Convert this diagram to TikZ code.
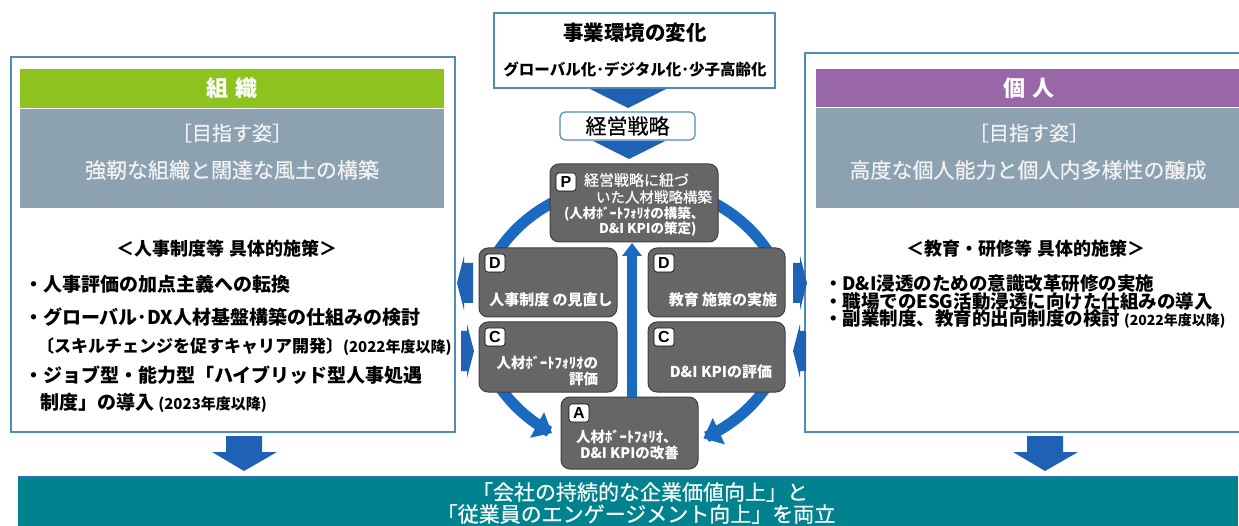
\documentclass[tikz,border=0pt]{standalone}
\usepackage{fontspec}
\setmainfont{Noto Sans CJK JP}
\newfontfamily\medf[FakeBold=0.5]{Noto Sans CJK JP}
\newfontfamily\latf{Liberation Sans}
\usetikzlibrary{arrows.meta}
\newcommand{\fsz}[1]{\fontsize{#1pt}{#1pt}\selectfont}
\definecolor{frameblue}{HTML}{4F8DB5}
\definecolor{grn}{HTML}{8DC21F}
\definecolor{purp}{HTML}{9966A8}
\definecolor{band}{HTML}{8DA2B1}
\definecolor{pdcafill}{HTML}{666666}
\definecolor{pdcaline}{HTML}{3F3F3F}
\definecolor{arcblue}{HTML}{1B6AC1}
\definecolor{tri}{HTML}{1F62B5}
\definecolor{tealbar}{HTML}{00838F}
\definecolor{bartop}{HTML}{2D6DB5}
\tikzset{
  framebox/.style={draw=frameblue, line width=1.2pt},
  pdcabox/.style={draw=pdcaline, fill=pdcafill, line width=1pt, rounded corners=9pt},
  letterbox/.style={draw=black, fill=white, line width=0.6pt, rounded corners=3pt, minimum width=20pt, minimum height=18pt, font=\latf\bfseries\fsz{16}},
  wtxt/.style={text=white, font=\fsz{14.5}\bfseries},
  bul/.style={anchor=west, font=\fsz{19}\bfseries},
  rbul/.style={anchor=west, font=\fsz{18.5}\bfseries},
  bandtxt/.style={text=white!95!black, font=\medf\fsz{21}},
  arcline/.style={draw=arcblue, line width=11pt},
  blockarrow/.style={fill=tri},
}
\begin{document}
\begin{tikzpicture}[x=1pt,y=-1pt, every node/.style={inner sep=0pt, outer sep=0pt}]
\useasboundingbox (0,0) rectangle (1239,526);
\fill[white] (0,0) rectangle (1239,526);

% ---------------- left box
\draw[framebox] (11,57) rectangle (455,432);
\fill[grn] (20,69) rectangle (444,108);
\fill[band] (20,109) rectangle (444,208);
\node[text=white, font=\fsz{22}\bfseries] (lh) at (232,88) {組\hspace{0.3em}織};
\node[bandtxt, font=\medf\fsz{20}] (lg1) at (232,133) {［目指す姿］};
\node[bandtxt] (lg2) at (232,170) {強靭な組織と闊達な風土の構築};
\node[font=\fsz{18}\bfseries] (lsub) at (227,249) {＜人事制度等 具体的施策＞};
\node[bul] (lb1) at (24,284) {・人事評価の加点主義への転換};
\node[bul] (lb2) at (24,317) {・グローバル･DX人材基盤構築の仕組みの検討};
\node[bul, font=\fsz{17}\bfseries] (lb3) at (37,347) {〔スキルチェンジを促すキャリア開発〕{\fsz{15}(2022年度以降)}};
\node[bul] (lb4) at (24,375) {・ジョブ型・能力型「ハイブリッド型人事処遇};
\node[bul] (lb5) at (40,403) {制度」の導入 {\fsz{15}(2023年度以降)}};

% ---------------- right box
\draw[framebox] (805,53) rectangle (1250,432);
\fill[purp] (816,69) rectangle (1245,107);
\fill[band] (816,108) rectangle (1245,208);
\node[text=white, font=\fsz{22}\bfseries] (rh) at (1029,88) {個\hspace{0.3em}人};
\node[bandtxt, font=\medf\fsz{20}] (rg1) at (1029,133) {［目指す姿］};
\node[bandtxt] (rg2) at (1028,170) {高度な個人能力と個人内多様性の醸成};
\node[font=\fsz{18}\bfseries] (rsub) at (1026,249) {＜教育・研修等 具体的施策＞};
\node[rbul] (rb1) at (824,284) {・D\&I浸透のための意識改革研修の実施};
\node[rbul] (rb2) at (824,301.5) {・職場でのESG活動浸透に向けた仕組みの導入};
\node[rbul] (rb3) at (824,319) {・副業制度、教育的出向制度の検討 {\fsz{14}(2022年度以降)}};

% ---------------- top center
\node[framebox, draw, minimum width=281pt, minimum height=75pt] (env) at (634.5,50.5) {};
\node[font=\fsz{20.5}\bfseries] (envt) at (635,33) {事業環境の変化};
\node[font=\fsz{15.5}\bfseries] (envs) at (635,69) {グローバル化･デジタル化･少子高齢化};
\fill[tri] (590,89) -- (666,89) -- (628,108) -- cycle;
\node[draw=frameblue, line width=1.2pt, rounded corners=5pt, minimum width=135pt, minimum height=28pt, font=\medf\fsz{21}] (ks) at (627.5,126) {経営戦略};
\fill[tri] (593,141) -- (665,141) -- (629,159) -- cycle;

% ---------------- PDCA arcs (ellipse centre 633,318)
\draw[arcline] plot[domain=152:110, samples=30] ({633+155*cos(\x)},{318-135*sin(\x)});
\draw[arcline] plot[domain=70:28, samples=30] ({633+155*cos(\x)},{318-135*sin(\x)});
\draw[arcline, -{Triangle[width=28pt,length=17pt]}] plot[domain=205:238.5, samples=30] ({633+155*cos(\x)},{318-135*sin(\x)});
\draw[arcline, -{Triangle[width=28pt,length=17pt]}] plot[domain=335:297, samples=30] ({633+155*cos(\x)},{318-135*sin(\x)});

% ---------------- PDCA boxes
\node[pdcabox, minimum width=168pt, minimum height=78pt] (P) at (634,203) {};
\node[pdcabox, minimum width=138pt, minimum height=69pt] (Dl) at (548,282.5) {};
\node[pdcabox, minimum width=138pt, minimum height=70pt] (Cl) at (548,357) {};
\node[pdcabox, minimum width=137pt, minimum height=69pt] (Dr) at (716.5,282.5) {};
\node[pdcabox, minimum width=137pt, minimum height=70pt] (Cr) at (716.5,357) {};
\node[pdcabox, minimum width=137pt, minimum height=72pt] (A) at (629.5,433) {};

% vertical arrow A -> P
\coordinate (vaS) at (632,397);
\coordinate (vaE) at (632,243);
\draw[draw=arcblue, line width=10pt, -{Triangle[width=19pt,length=13pt]}] (vaS) -- (vaE);

% letters
\node[letterbox] (Pl) at (566,182) {P};
\node[letterbox] (Dll) at (495,263) {D};
\node[letterbox] (Drl) at (664,263) {D};
\node[letterbox] (Cll) at (495,337) {C};
\node[letterbox] (Crl) at (664,337) {C};
\node[letterbox] (Al) at (579,413) {A};

% PDCA texts
\node[wtxt, anchor=west, font=\medf\fsz{15}] (Pt1) at (584,180) {経営戦略に紐づ};
\node[wtxt, anchor=west, font=\medf\fsz{14.5}] (Pt2) at (596,197) {いた人材戦略構築};
\node[wtxt, anchor=west, font=\fsz{13.5}\bfseries] (Pt3) at (564,214) {(人材ﾎﾞｰﾄﾌｫﾘｵの構築、};
\node[wtxt, anchor=west, font=\fsz{13.5}\bfseries] (Pt4) at (599,229) {D\&I KPIの策定)};
\node[wtxt, font=\fsz{15}\bfseries] (Dlt) at (551,300) {人事制度 の見直し};
\node[wtxt, font=\fsz{15}\bfseries] (Drt) at (723,300) {教育 施策の実施};
\node[wtxt, anchor=east] (Clt1) at (598,363) {人材ﾎﾞｰﾄﾌｫﾘｵの};
\node[wtxt, anchor=east] (Clt2) at (598,379) {評価};
\node[wtxt, font=\fsz{15}\bfseries] (Crt) at (721,372) {D\&I KPIの評価};
\node[wtxt, anchor=west] (At1) at (576,437) {人材ﾎﾞｰﾄﾌｫﾘｵ、};
\node[wtxt, anchor=west] (At2) at (580,453) {D\&I KPIの改善};

% side block arrows
\fill[blockarrow] (473,263) -- (464,263) -- (464,256) -- (457,283) -- (464,310) -- (464,303) -- (473,303) -- cycle;
\fill[blockarrow] (461,331) -- (467,331) -- (467,324) -- (474,351) -- (467,378) -- (467,371) -- (461,371) -- cycle;
\fill[blockarrow] (793,263) -- (800,263) -- (800,256) -- (807,283) -- (800,310) -- (800,303) -- (793,303) -- cycle;
\fill[blockarrow] (806,331) -- (800,331) -- (800,324) -- (793,351) -- (800,378) -- (800,371) -- (806,371) -- cycle;

% down arrows
\fill[tri] (226,436) -- (262,436) -- (262,452) -- (277,452) -- (244,471) -- (212,452) -- (226,452) -- cycle;
\fill[tri] (1027,436) -- (1063,436) -- (1063,452) -- (1078,452) -- (1045,471) -- (1013,452) -- (1027,452) -- cycle;

% bottom bar
\fill[tealbar] (18,477) rectangle (1238,530);
\draw[bartop, line width=1.5pt] (18,477) -- (1238,477);
\node[text=white, font=\medf\fsz{21}] (g1) at (640,492) {「会社の持続的な企業価値向上」と};
\node[text=white, font=\medf\fsz{21}] (g2) at (636,514) {「従業員のエンゲージメント向上」を両立};
\end{tikzpicture}
\end{document}
